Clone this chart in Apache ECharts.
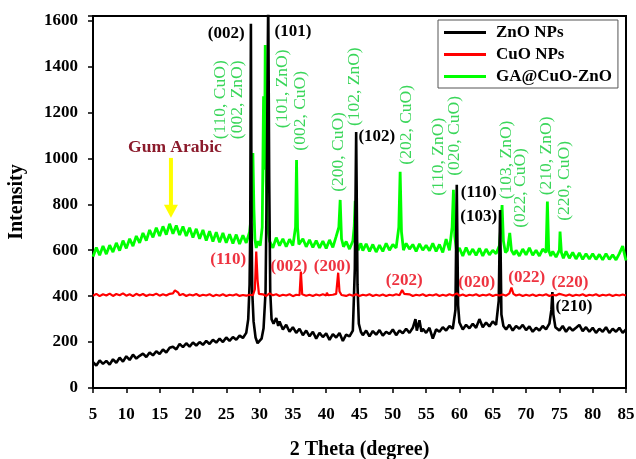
<!DOCTYPE html>
<html><head><meta charset="utf-8">
<script src="https://cdn.jsdelivr.net/npm/echarts@6/dist/echarts.min.js"></script>
<style>html,body{margin:0;padding:0;background:#fff}#c{width:636px;height:459px}</style>
</head><body><div id="c"></div>
<script>
const seriesNames = ['ZnO NPs', 'CuO NPs', 'GA@CuO-ZnO'];
const xTicks = [5,10,15,20,25,30,35,40,45,50,55,60,65,70,75,80,85];
const yTicks = [0,200,400,600,800,1000,1200,1400,1600];

const znoData = [[5,112],[5.5,98],[6,120],[6.5,105],[7,118],[7.5,102],[8,125],[8.5,110],[9,132],[9.5,115],[10,138],[10.5,122],[11,145],[11.5,128],[12,140],[12.5,150],[13,135],[13.5,155],[14,142],[14.5,160],[15,148],[15.5,168],[16,155],[16.5,175],[17,180],[17.5,168],[18,192],[18.5,178],[19,195],[19.5,180],[20,198],[20.5,185],[21,200],[21.5,188],[22,205],[22.5,192],[23,210],[23.5,198],[24,215],[24.5,200],[25,220],[25.5,205],[26,222],[26.5,210],[27,228],[27.5,218],[28,240],[28.3,300],[28.5,450],[28.6,680],[28.7,1586],[28.8,720],[28.9,420],[29.1,290],[29.4,220],[29.7,195],[30,205],[30.3,215],[30.6,260],[30.9,420],[31.1,950],[31.3,1700],[31.45,900],[31.6,420],[31.8,300],[32.1,280],[32.5,305],[32.8,270],[33,290],[33.5,255],[34,275],[34.5,245],[35,265],[35.5,240],[36,258],[36.5,230],[37,250],[37.5,225],[38,245],[38.5,215],[39,240],[39.5,222],[40,238],[40.5,210],[41,235],[41.5,220],[42,240],[42.5,205],[43,232],[43.5,225],[44,250],[44.3,520],[44.5,1115],[44.7,450],[44.9,280],[45.2,245],[45.5,230],[46,250],[46.5,225],[47,248],[47.5,232],[48,252],[48.5,228],[49,245],[49.5,235],[50,255],[50.5,230],[51,250],[51.5,238],[52,258],[52.5,240],[53,262],[53.4,300],[53.6,250],[54,295],[54.3,245],[54.5,258],[55,240],[55.5,262],[56,215],[56.5,255],[57,245],[57.5,265],[58,250],[58.5,270],[59,258],[59.4,340],[59.6,885],[59.8,360],[60,285],[60.5,255],[61,275],[61.5,260],[62,280],[62.5,262],[63,300],[63.5,265],[64,285],[64.5,268],[65,290],[65.5,275],[65.9,380],[66.1,775],[66.3,320],[66.6,270],[67,255],[67.5,275],[68,250],[68.5,270],[69,258],[69.5,275],[70,252],[70.5,268],[71,245],[71.5,262],[72,250],[72.5,270],[73,255],[73.5,280],[73.8,340],[73.95,418],[74.1,320],[74.4,265],[75,250],[75.5,270],[76,245],[76.5,265],[77,250],[77.5,262],[78,275],[78.5,248],[79,265],[79.5,245],[80,262],[80.5,240],[81,258],[81.5,245],[82,265],[82.5,240],[83,258],[83.5,245],[84,262],[84.5,240],[85,255]];

const cuoData = [[5,402],[5.5,410],[6,400],[6.5,408],[7,403],[7.5,411],[8,401],[8.5,409],[9,404],[9.5,412],[10,402],[10.5,408],[11,400],[11.5,410],[12,403],[12.5,409],[13,401],[13.5,407],[14,404],[14.5,411],[15,402],[15.5,408],[16,403],[16.5,410],[17,412],[17.3,425],[17.5,430],[17.8,415],[18,404],[18.5,409],[19,401],[19.5,407],[20,403],[20.5,409],[21,401],[21.5,406],[22,403],[22.5,408],[23,400],[23.5,406],[24,402],[24.5,408],[25,401],[25.5,406],[26,403],[26.5,408],[27,401],[27.5,405],[28,402],[28.5,406],[29,404],[29.3,430],[29.5,594],[29.7,470],[29.9,410],[30.2,404],[30.5,408],[31,401],[31.5,412],[32,404],[32.5,408],[33,401],[33.5,406],[34,403],[34.5,408],[35,400],[35.5,406],[36,404],[36.2,507],[36.4,408],[37,402],[37.5,406],[38,401],[38.5,407],[39,403],[39.5,408],[40,403],[40.1,415],[40.3,404],[41,406],[41.5,410],[41.8,502],[42,420],[42.3,405],[43,401],[43.5,407],[44,402],[44.5,408],[45,401],[45.5,406],[46,403],[46.5,408],[47,401],[47.5,406],[48,402],[48.5,407],[49,401],[49.5,406],[50,403],[50.5,408],[51,404],[51.4,427],[51.7,410],[52,403],[52.5,408],[53,401],[53.5,406],[54,403],[54.5,408],[55,401],[55.5,406],[56,403],[56.5,408],[57,401],[57.5,406],[58,402],[58.5,408],[59,403],[59.6,412],[60,402],[60.5,407],[61,401],[61.5,406],[62,403],[62.5,408],[63,401],[63.5,406],[64,403],[64.5,408],[65,401],[65.5,406],[66,403],[66.5,407],[67,402],[67.5,412],[67.8,437],[68.1,410],[68.5,403],[69,407],[69.5,401],[70,406],[70.5,402],[71,407],[71.5,401],[72,406],[72.5,403],[73,408],[73.5,401],[74,406],[74.5,403],[75,410],[75.2,417],[75.5,406],[76,402],[76.5,407],[77,401],[77.5,406],[78,403],[78.5,408],[79,401],[79.5,406],[80,403],[80.5,408],[81,401],[81.5,406],[82,403],[82.5,407],[83,401],[83.5,406],[84,403],[84.5,407],[85,403]];

const gaData = [[5,572],[5.5,612],[6,578],[6.5,618],[7,583],[7.5,622],[8,592],[8.5,632],[9,598],[9.5,642],[10,608],[10.5,650],[11,618],[11.5,662],[12,632],[12.5,675],[13,642],[13.5,688],[14,656],[14.5,698],[15,662],[15.5,704],[16,668],[16.5,715],[17,672],[17.5,708],[18,666],[18.5,703],[19,662],[19.5,698],[20,655],[20.5,693],[21,650],[21.5,688],[22,642],[22.5,683],[23,638],[23.5,678],[24,635],[24.5,675],[25,632],[25.5,670],[26,629],[26.5,668],[27,627],[27.5,665],[28,632],[28.5,680],[28.8,760],[29.0,1023],[29.15,780],[29.3,650],[29.5,610],[29.8,640],[30.1,620],[30.4,700],[30.6,1270],[30.75,950],[30.85,1494],[31.0,900],[31.2,700],[31.5,640],[32,610],[32.5,655],[33,620],[33.5,650],[34,615],[34.5,648],[35,620],[35.4,700],[35.55,993],[35.7,700],[35.9,625],[36.5,650],[37,615],[37.5,645],[38,612],[38.5,642],[39,610],[39.5,640],[40,608],[40.5,645],[41,612],[41.5,660],[41.9,700],[42.1,819],[42.3,650],[42.6,615],[43,638],[43.5,605],[44,640],[44.2,700],[44.35,815],[44.5,650],[44.8,600],[45.2,630],[45.5,598],[46,628],[46.5,595],[47,625],[47.5,592],[48,622],[48.5,595],[49,630],[49.5,600],[50,625],[50.5,610],[50.9,700],[51.1,942],[51.3,680],[51.6,600],[52,630],[52.5,605],[53,625],[53.5,595],[54,628],[54.5,600],[55,622],[55.5,598],[56,630],[56.5,595],[57,625],[57.5,590],[58,648],[58.5,600],[58.9,700],[59.1,863],[59.3,660],[59.6,590],[60,610],[60.5,575],[61,612],[61.5,580],[62,605],[62.5,578],[63,608],[63.5,575],[64,605],[64.5,580],[65,600],[65.5,585],[66,620],[66.2,700],[66.4,797],[66.6,640],[66.9,590],[67.2,600],[67.55,675],[67.8,600],[68.2,580],[68.5,600],[69,575],[69.5,605],[70,580],[70.5,610],[71,578],[71.5,600],[72,575],[72.5,605],[73,590],[73.2,812],[73.4,600],[73.7,575],[74,595],[74.5,570],[75,600],[75.1,681],[75.3,590],[75.6,565],[76,595],[76.5,565],[77,590],[77.5,562],[78,588],[78.5,560],[79,585],[79.5,562],[80,585],[80.5,560],[81,582],[81.5,558],[82,585],[82.5,560],[83,580],[83.5,558],[84,585],[84.5,618],[84.8,580],[85,555]];

// annotation texts anchored in data coordinates [2theta, intensity]
const znoLabels = [['(002)',25.0,1542],['(101)',35.0,1551],['(102)',47.6,1094],['(110)',62.9,850],['(103)',62.9,745],['(210)',77.2,353]];
const cuoLabels = [['(110)',25.3,558],['(002)',34.4,527],['(200)',40.9,527],['(202)',51.7,466],['(020)',62.6,457],['(022)',70.1,479],['(220)',76.6,457]];
const gaLabels = [['(110, CuO)',24.06,1255],['(002, ZnO)',26.6,1255],['(101, ZnO)',33.4,1303],['(002, CuO)',36.1,1207],['(200, CuO)',41.8,1028],['(102, ZnO)',44.3,1312],['(202, CuO)',52.0,1146],['(110, ZnO)',56.9,1007],['(020, CuO)',59.3,1098],['(103, ZnO)',67.0,993],['(022, CuO)',69.1,871],['(210, ZnO)',73.1,1011],['(220, CuO)',75.8,902]];
const gumLabel = ['Gum Arabic',17.3,1046];
const gumArrow = [16.7,1002,741];

const FONT = '"Liberation Serif","Times New Roman",serif';
const chart = echarts.init(document.getElementById('c'), null, {renderer:'canvas'});
chart.setOption({
  animation:false,
  backgroundColor:'#fff',
  grid:{left:93,right:10,top:16,bottom:71,show:true,borderColor:'#000',borderWidth:2,backgroundColor:'transparent',outerBoundsMode:'none',containLabel:false},
  legend:{
    orient:'vertical', left:438, top:20,
    data:seriesNames.map(n=>({name:n,icon:'rect'})),
    itemWidth:42, itemHeight:3, itemGap:5,
    borderColor:'#555', borderWidth:1, padding:[4,6,3,6],
    backgroundColor:'#fff',
    textStyle:{fontFamily:FONT,fontWeight:'bold',fontSize:17,color:'#000',padding:[0,0,0,5],lineHeight:17}
  },
  xAxis:{
    type:'value', min:5, max:85, interval:5,
    name:'2 Theta (degree)', nameLocation:'middle', nameGap:52,
    nameTextStyle:{fontFamily:FONT,fontWeight:'bold',fontSize:20,color:'#000'},
    axisLine:{lineStyle:{color:'#000',width:2}},
    axisTick:{show:true,length:5,lineStyle:{color:'#000',width:1.5}},
    axisLabel:{fontFamily:FONT,fontWeight:'bold',fontSize:17,color:'#000',margin:18,
      formatter:v=>xTicks.includes(v)?String(v):''},
    splitLine:{show:false}
  },
  yAxis:{
    type:'value', min:0, max:1620, interval:200,
    name:'Intensity', nameLocation:'middle', nameGap:66,
    nameTextStyle:{fontFamily:FONT,fontWeight:'bold',fontSize:20,color:'#000'},
    axisLine:{lineStyle:{color:'#000',width:2}},
    axisTick:{show:true,length:5,lineStyle:{color:'#000',width:1.5}},
    axisLabel:{fontFamily:FONT,fontWeight:'bold',fontSize:17,color:'#000',margin:15,
      formatter:v=>yTicks.includes(v)?String(v):''},
    splitLine:{show:false}
  },
  series:[
    {name:seriesNames[2],type:'line',data:gaData,showSymbol:false,symbol:'none',lineStyle:{color:'#00ff00',width:2.8},itemStyle:{color:'#00ff00'},z:2},
    {name:seriesNames[0],type:'line',data:znoData,showSymbol:false,symbol:'none',lineStyle:{color:'#000',width:2.6},itemStyle:{color:'#000'},z:3},
    {name:seriesNames[1],type:'line',data:cuoData,showSymbol:false,symbol:'none',lineStyle:{color:'#ff0000',width:2.2},itemStyle:{color:'#ff0000'},z:4}
  ]
});

function px(x,y){return chart.convertToPixel({gridIndex:0},[x,y]);}
const g = [];
znoLabels.forEach(([t,x,y])=>{const p=px(x,y);g.push({type:'text',x:p[0],y:p[1],z:20,style:{text:t,fill:'#000',font:'bold 17px '+FONT,align:'center',verticalAlign:'middle'}});});
cuoLabels.forEach(([t,x,y])=>{const p=px(x,y);g.push({type:'text',x:p[0],y:p[1],z:20,style:{text:t,fill:'#ee3340',font:'bold 17px '+FONT,align:'center',verticalAlign:'middle'}});});
gaLabels.forEach(([t,x,y])=>{const p=px(x,y);g.push({type:'text',x:p[0],y:p[1],rotation:Math.PI/2,z:20,style:{text:t,fill:'#3ad65a',font:'17.5px '+FONT,align:'center',verticalAlign:'middle'}});});
{const p=px(gumLabel[1],gumLabel[2]);g.push({type:'text',x:p[0],y:p[1],z:20,style:{text:gumLabel[0],fill:'#8b1a2b',font:'bold 17.5px '+FONT,align:'center',verticalAlign:'middle'}});}
{const a=px(gumArrow[0],gumArrow[1]);const b=px(gumArrow[0],gumArrow[2]);
 g.push({type:'line',z:20,shape:{x1:a[0],y1:a[1],x2:b[0],y2:b[1]-12},style:{stroke:'#ffff00',lineWidth:4}});
 g.push({type:'polygon',z:20,shape:{points:[[b[0]-7,b[1]-13],[b[0]+7,b[1]-13],[b[0],b[1]]]},style:{fill:'#ffff00'}});}
chart.setOption({graphic:g});
</script></body></html>
